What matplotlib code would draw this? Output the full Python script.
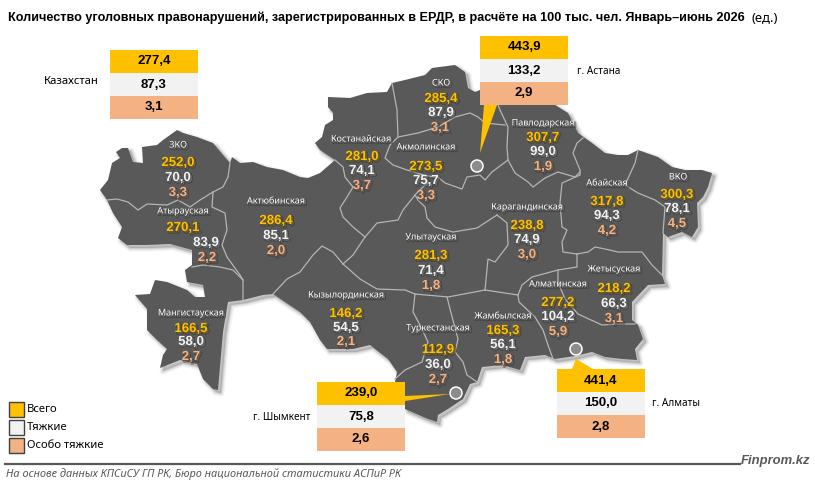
import matplotlib.pyplot as plt
import matplotlib.patheffects as pe
from matplotlib.patches import Polygon, Rectangle, Circle

plt.rcParams['font.family'] = ['Noto Sans', 'DejaVu Sans']
BOLD = ['Liberation Sans', 'DejaVu Sans']

regions = ['ЗКО', 'Атырауская', 'Актюбинская', 'Костанайская', 'СКО', 'Акмолинская', 'Павлодарская',
           'Абайская', 'ВКО', 'Карагандинская', 'Улытауская', 'Жетысуская', 'Алматинская', 'Жамбылская',
           'Туркестанская', 'Кызылординская', 'Мангистауская']
total = ['252,0', '270,1', '286,4', '281,0', '285,4', '273,5', '307,7', '317,8', '300,3', '238,8', '281,3',
         '218,2', '277,2', '165,3', '112,9', '146,2', '166,5']
grave = ['70,0', '83,9', '85,1', '74,1', '87,9', '75,7', '99,0', '94,3', '78,1', '74,9', '71,4',
         '66,3', '104,2', '56,1', '36,0', '54,5', '58,0']
very_grave = ['3,3', '2,2', '2,0', '3,7', '3,1', '3,3', '1,9', '4,2', '4,5', '3,0', '1,8',
              '3,1', '5,9', '1,8', '2,7', '2,1', '2,7']

# where the labels sit: name, total, grave, very grave as (x, y) in pixels
label_pos = [
    [(178, 145), (178, 163), (178, 178), (178, 193)],
    [(183, 211), (183, 228), (206, 243), (207, 258)],
    [(276, 201), (276, 221), (276, 236), (276, 251)],
    [(361, 139), (362, 157), (362, 171), (362, 186)],
    [(441, 83), (441, 99), (441, 113), (440, 128)],
    [(426, 147), (426, 167), (426, 181), (426, 196)],
    [(543, 123), (543, 138), (543, 152), (543, 167)],
    [(607, 183), (607, 202), (607, 216), (607, 231)],
    [(678, 177), (677, 195), (677, 209), (677, 224)],
    [(527, 207), (527, 226), (527, 240), (527, 255)],
    [(431, 237), (431, 256), (431, 271), (431, 286)],
    [(614, 269), (614, 289), (614, 304), (614, 319)],
    [(558, 284), (558, 303), (558, 317), (558, 332)],
    [(503, 316), (503, 331), (503, 345), (503, 360)],
    [(438, 328), (438, 350), (438, 365), (438, 380)],
    [(346, 295), (346, 314), (346, 328), (346, 342)],
    [(191, 313), (191, 329), (191, 342), (191, 357)],
]

box_names = ['Казахстан', 'г. Астана', 'г. Шымкент', 'г. Алматы']
box_total = ['277,4', '443,9', '239,0', '441,4']
box_grave = ['87,3', '133,2', '75,8', '150,0']
box_very_grave = ['3,1', '2,9', '2,6', '2,8']
box_corner = [(110, 50), (480, 36), (317, 382), (557, 369)]
box_name_pos = [(99, 82, 'right', 8.1), (577, 72, 'left', 7.2), (310, 417, 'right', 7.2), (652, 404, 'left', 7.2)]

legend_names = ['Всего', 'Тяжкие', 'Особо тяжкие']

# country outline, pixels
outline = [(100, 190), (108, 180), (112, 163), (120, 158), (116, 152), (122, 148), (128, 148), (133, 162), (143, 163),
           (142, 147), (157, 145), (163, 140), (177, 130), (183, 133), (197, 137), (213, 143), (223, 155),
           (230, 163), (232, 157), (240, 163), (253, 162), (267, 167), (283, 170), (300, 177), (308, 178),
           (320, 173), (335, 160), (320, 150), (315, 143), (322, 137), (325, 125), (333, 120), (333, 113),
           (328, 107), (328, 97), (350, 98), (367, 93), (387, 92), (392, 83), (405, 80), (425, 75), (432, 68),
           (455, 65), (465, 72), (468, 88), (475, 92), (480, 90), (505, 105), (552, 103), (568, 113), (578, 133),
           (592, 143), (605, 153), (618, 155), (628, 155), (638, 150), (658, 157), (672, 167), (685, 170),
           (702, 170), (712, 173), (708, 187), (703, 197), (697, 203), (698, 227), (692, 237), (682, 232),
           (668, 237), (663, 233), (662, 275), (665, 284), (648, 285), (632, 302), (632, 320), (638, 325),
           (643, 339), (635, 349), (637, 360), (622, 359), (605, 357), (592, 352), (575, 356), (555, 359),
           (545, 355), (525, 357), (520, 370), (502, 365), (482, 367), (477, 382), (470, 384), (463, 399),
           (448, 409), (438, 415), (437, 422), (428, 419), (405, 409), (395, 382), (397, 372), (388, 359),
           (370, 345), (353, 349), (327, 349), (320, 340), (310, 322), (300, 312), (273, 294), (263, 295),
           (243, 300), (228, 302), (223, 332), (218, 390), (213, 389), (203, 379), (197, 364), (180, 360),
           (160, 368), (163, 355), (167, 349), (157, 340), (147, 330), (147, 309), (135, 295), (150, 294),
           (155, 280), (167, 282), (187, 290), (195, 297), (205, 297), (203, 285), (187, 282), (185, 270),
           (192, 265), (192, 250), (170, 244), (147, 245), (127, 245), (118, 238), (122, 227), (113, 213),
           (107, 200)]

# borders between the regions
borders = [
    [(107, 200), (117, 199), (128, 202), (138, 210), (147, 204), (167, 205), (178, 200), (190, 207), (200, 200), (213, 192)],
    [(230, 163), (228, 177), (223, 187), (213, 192)],
    [(213, 192), (212, 207), (225, 213), (227, 230), (222, 245), (227, 257), (240, 275), (243, 280)],
    [(192, 267), (203, 265), (220, 267), (233, 270), (243, 280), (243, 300)],
    [(273, 294), (287, 279), (300, 272), (313, 255), (322, 246), (333, 252), (343, 264)],
    [(335, 160), (343, 167), (345, 177), (353, 187), (347, 197), (340, 208), (343, 217), (353, 227), (365, 237),
     (353, 255), (343, 264)],
    [(365, 237), (377, 223), (398, 220), (403, 210), (415, 195)],
    [(343, 264), (360, 279), (377, 289), (405, 290), (415, 294), (448, 297), (485, 290)],
    [(485, 290), (488, 259), (495, 262), (505, 249), (508, 245), (507, 223), (497, 215)],
    [(427, 183), (415, 195), (418, 200), (425, 207), (427, 218), (435, 227), (453, 232), (477, 228), (497, 215)],
    [(392, 83), (397, 110), (398, 137), (390, 145), (385, 158), (393, 165), (407, 170), (427, 176), (438, 177),
     (445, 183), (462, 189), (467, 177), (480, 175), (485, 180), (492, 172), (508, 160), (507, 147), (508, 127),
     (500, 110), (497, 102)],
    [(398, 137), (418, 133), (438, 127), (455, 117), (470, 113), (478, 117), (485, 123), (505, 125)],
    [(508, 160), (515, 173), (528, 182), (533, 187), (545, 178), (558, 172), (575, 177), (580, 172)],
    [(583, 138), (577, 143), (573, 153), (580, 170), (580, 175), (562, 183), (560, 203), (562, 227), (567, 230),
     (562, 242), (563, 252), (577, 254)],
    [(577, 254), (588, 252), (595, 247), (605, 249), (618, 252), (642, 252), (652, 265), (662, 275)],
    [(577, 254), (577, 267), (558, 270), (532, 277), (522, 285), (518, 295)],
    [(485, 290), (518, 295), (519, 302), (535, 317), (543, 330), (548, 345), (553, 359)],
    [(558, 270), (558, 282), (565, 299), (578, 314), (602, 325), (618, 324), (635, 324)],
    [(447, 297), (450, 309), (458, 339), (455, 352), (463, 362), (467, 375), (477, 382)],
    [(415, 294), (413, 312), (420, 325), (428, 342), (422, 362), (405, 370), (395, 379)],
    [(638, 150), (635, 163), (625, 185), (638, 193), (655, 200), (665, 207), (663, 233)],
]

# Astana, Shymkent, Almaty
cities = [(477, 166), (456, 393), (576, 349)]
pointers = [[(484, 105), (497, 105), (480, 153)],
            [(405, 396), (405, 401), (450, 394)],
            [(572, 369), (593, 369), (576, 359)]]

C_TOTAL = '#ffc000'
C_GRAVE = '#f2f2f2'
C_VERY = '#f4b183'
C_MAP = '#595959'
C_BORDER = '#b5b5b5'

fig = plt.figure(figsize=(8.15, 4.87), dpi=100)
ax = fig.add_axes([0, 0, 1, 1])
ax.set_xlim(0, 815)
ax.set_ylim(487, 0)
ax.axis('off')

# soft shadow under the map
shadow = [(x + 3, y + 3) for x, y in outline]
for w, a in zip([5, 3, 1.5], [0.10, 0.14, 0.2]):
    ax.add_patch(Polygon(shadow, closed=True, fc='#808080', ec='#808080', lw=w, alpha=a, joinstyle='round'))
ax.add_patch(Polygon(outline, closed=True, fc=C_MAP, ec='none'))

for b in borders:
    ax.plot([p[0] for p in b], [p[1] for p in b], color=C_BORDER, lw=0.9, solid_joinstyle='round')

text_shadow = [pe.Stroke(linewidth=1.4, foreground='#2b2b2b', alpha=0.45, offset=(1.2, -1.2)), pe.Normal()]

for i, name in enumerate(regions):
    pos = label_pos[i]
    ax.text(pos[0][0], pos[0][1], name, color='white', fontsize=6.5, ha='center', va='center', path_effects=text_shadow)
    for p, val, c in zip(pos[1:], [total[i], grave[i], very_grave[i]], [C_TOTAL, '#f2f2f2', C_VERY]):
        ax.text(p[0], p[1], val, color=c, fontsize=9.5, fontweight='bold', family=BOLD, ha='center', va='center',
                path_effects=text_shadow)

for p in pointers:
    ax.add_patch(Polygon(p, closed=True, fc=C_TOTAL, ec='none', zorder=3))
for c in cities:
    ax.add_patch(Circle(c, 6, fc='#8c8c8c', ec='white', lw=1.1, zorder=4))

for i, (x, y) in enumerate(box_corner):
    vals = [box_total[i], box_grave[i], box_very_grave[i]]
    for j, (val, c) in enumerate(zip(vals, [C_TOTAL, C_GRAVE, C_VERY])):
        ax.add_patch(Rectangle((x, y + j * 23), 88, 23, fc=c, ec='none', zorder=5))
        ax.text(x + 44, y + j * 23 + 11.5, val, color='black', fontsize=9.5, fontweight='bold', family=BOLD,
                ha='center', va='center', zorder=6)
    nx, ny, ha, fs = box_name_pos[i]
    ax.text(nx, ny, box_names[i], color='black', fontsize=fs, ha=ha, va='center')

for i, (name, c) in enumerate(zip(legend_names, [C_TOTAL, C_GRAVE, C_VERY])):
    ax.add_patch(Rectangle((8.5, 402 + i * 18), 15, 15, fc=c, ec='#404040', lw=1))
    ax.text(27, 409.5 + i * 18, name, color='black', fontsize=8.1, ha='left', va='center')

ax.text(8, 18, 'Количество уголовных правонарушений, зарегистрированных в ЕРДР, в расчёте на 100 тыс. чел. Январь–июнь 2026',
        color='black', fontsize=9.1, fontweight='bold', family=BOLD, ha='left', va='center')
ax.text(752, 18, '(ед.)', color='black', fontsize=9.4, ha='left', va='center')

ax.plot([5, 740], [464, 464], color=C_MAP, lw=1.6)
ax.text(6, 474, 'На основе данных КПСиСУ ГП РК, Бюро национальной статистики АСПиР РК', color='#595959',
        fontsize=7.9, style='italic', ha='left', va='center')
ax.text(810, 461, 'Finprom.kz', color='#595959', fontsize=9.4, style='italic', fontweight='bold', family=BOLD,
        ha='right', va='center')

plt.savefig('out.png', dpi=100)
